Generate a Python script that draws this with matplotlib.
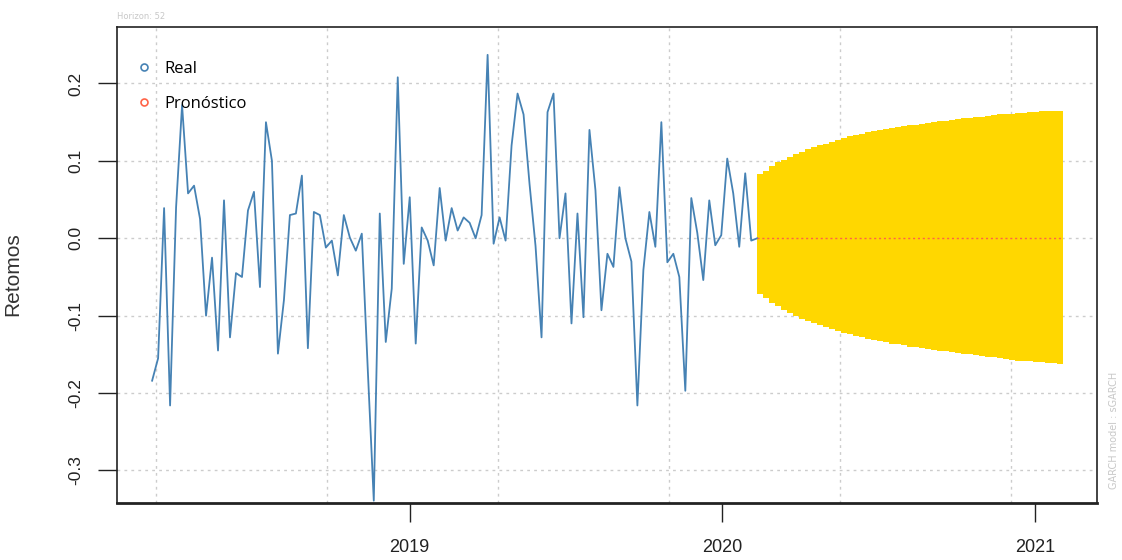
import numpy as np
import matplotlib
matplotlib.use('Agg')
import matplotlib.pyplot as plt
import matplotlib.dates as mdates
from matplotlib.ticker import MultipleLocator, FuncFormatter
from matplotlib.lines import Line2D

# weekly log returns (in sample)
start_date = np.datetime64('2018-03-06')
real = [-0.184, -0.155, 0.039, -0.216, 0.040, 0.172, 0.058, 0.068, 0.025, -0.100,
        -0.025, -0.145, 0.049, -0.128, -0.045, -0.050, 0.036, 0.060, -0.063, 0.150,
        0.100, -0.149, -0.080, 0.030, 0.032, 0.081, -0.142, 0.034, 0.030, -0.012,
        -0.003, -0.048, 0.030, 0.001, -0.016, 0.006, -0.170, -0.339, 0.032, -0.134,
        -0.065, 0.208, -0.033, 0.053, -0.136, 0.014, -0.003, -0.035, 0.065, -0.003,
        0.039, 0.010, 0.027, 0.020, 0.000, 0.030, 0.237, -0.007, 0.027, -0.003,
        0.120, 0.187, 0.160, 0.070, -0.010, -0.128, 0.163, 0.187, 0.000, 0.058,
        -0.110, 0.032, -0.102, 0.140, 0.062, -0.093, -0.020, -0.037, 0.066, 0.000,
        -0.030, -0.216, -0.041, 0.034, -0.011, 0.150, -0.031, -0.020, -0.050, -0.197,
        0.052, 0.007, -0.054, 0.049, -0.009, 0.004, 0.103, 0.058, -0.011, 0.084,
        -0.003, 0.000]

# 52-week ahead forecast: mean and sigma band
forecast = [0.0] * 52
upper = [0.083, 0.087, 0.093, 0.098, 0.101, 0.105, 0.109, 0.112, 0.115, 0.118,
         0.120, 0.122, 0.124, 0.127, 0.130, 0.132, 0.134, 0.135, 0.137, 0.139,
         0.140, 0.141, 0.142, 0.144, 0.145, 0.146, 0.147, 0.148, 0.149, 0.150,
         0.151, 0.152, 0.153, 0.154, 0.155, 0.156, 0.157, 0.157, 0.158, 0.159,
         0.160, 0.160, 0.161, 0.162, 0.162, 0.163, 0.163, 0.164, 0.164, 0.165,
         0.165, 0.166]
lower = [-0.072, -0.077, -0.083, -0.088, -0.093, -0.097, -0.100, -0.104, -0.107, -0.110,
         -0.112, -0.115, -0.117, -0.120, -0.122, -0.124, -0.126, -0.128, -0.130, -0.131,
         -0.133, -0.134, -0.136, -0.137, -0.138, -0.140, -0.141, -0.142, -0.143, -0.144,
         -0.145, -0.146, -0.147, -0.148, -0.149, -0.150, -0.151, -0.152, -0.153, -0.154,
         -0.155, -0.156, -0.157, -0.158, -0.158, -0.159, -0.160, -0.160, -0.161, -0.161,
         -0.162, -0.163]

week = np.timedelta64(7, 'D')
real_dates = start_date + np.arange(len(real)) * week
fc_dates = real_dates[-1] + np.arange(len(forecast)) * week

fig = plt.figure(figsize=(11.22, 5.60), dpi=100)
ax = fig.add_axes([0.1043, 0.1018, 0.8734, 0.850])

ax.fill_between(fc_dates, lower, upper, step='post', color='#FFD700', lw=0, zorder=2)
ax.plot(real_dates, real, color='#4682B4', lw=1.3, zorder=3)
ax.plot(fc_dates, forecast, color='#FF6347', lw=1.0, ls=(0, (1.5, 2)), zorder=4)

ax.set_xlim(np.datetime64('2018-01-24'), np.datetime64('2021-03-14'))
ax.set_ylim(-0.342, 0.273)

# grid lines every 200 days and every 0.1 return
ax.xaxis.set_major_locator(mdates.YearLocator())
ax.xaxis.set_major_formatter(mdates.DateFormatter('%Y'))
ax.xaxis.set_minor_locator(MultipleLocator(200))
ax.yaxis.set_major_locator(MultipleLocator(0.1))
ax.yaxis.set_major_formatter(FuncFormatter(lambda v, p: f'{v:.1f}'))
ax.grid(which='minor', axis='x', color='#cccccc', ls=(0, (2, 3)), lw=1.0, zorder=1)
ax.grid(which='major', axis='y', color='#cccccc', ls=(0, (2, 3)), lw=1.0, zorder=1)
ax.tick_params(which='minor', length=0)
ax.set_axisbelow(True)

ax.tick_params(axis='x', length=14, width=1, pad=12, labelsize=13, colors='#222222')
ax.tick_params(axis='y', length=14, width=1, pad=10, labelsize=12.5, colors='#222222',
               labelrotation=90)
for lab in ax.get_yticklabels():
    lab.set_va('center')
    lab.set_fontfamily('Liberation Sans')
for lab in ax.get_xticklabels():
    lab.set_fontfamily('Liberation Sans')

for s in ax.spines.values():
    s.set_color('#222222')
    s.set_linewidth(1.2)
ax.spines['bottom'].set_linewidth(2.0)

ax.set_ylabel('Retomos', fontsize=15, color='#333333', family='Liberation Sans')
ax.yaxis.set_label_coords(-0.097, 0.48)

handles = [Line2D([], [], ls='none', marker='o', ms=5, mfc='none', mec='#4682B4', mew=1.2),
           Line2D([], [], ls='none', marker='o', ms=5, mfc='none', mec='#FF6347', mew=1.2)]
ax.legend(handles, ['Real', 'Pronóstico'], loc='upper left', bbox_to_anchor=(0.002, 0.964),
          frameon=False, prop={'family': 'Open Sans', 'size': 12}, handlelength=1.0,
          handletextpad=0.75, labelspacing=1.15, borderaxespad=0.6)

fig.text(0.1043, 0.963, 'Horizon: 52', fontsize=6, color='#c8c8c8', ha='left', va='bottom')
fig.text(0.993, 0.232, 'GARCH model : sGARCH', fontsize=7, color='#c8c8c8',
         rotation=90, ha='center', va='center')

fig.savefig('out.png', dpi=100)
